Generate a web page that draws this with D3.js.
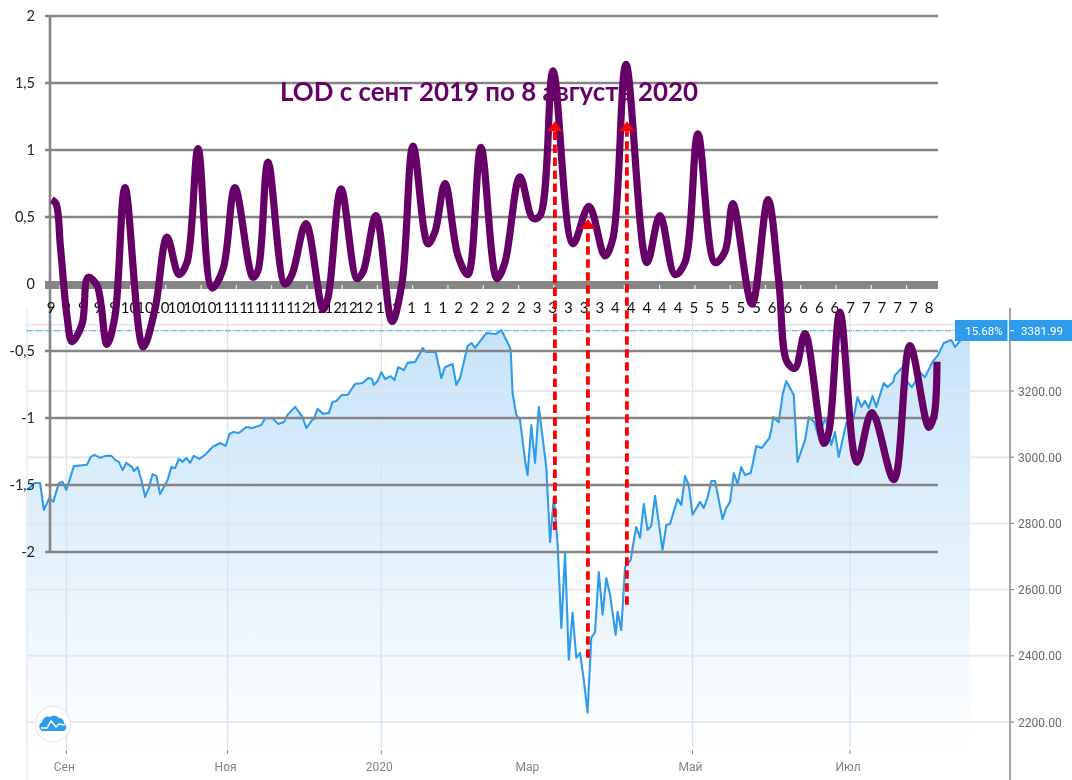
<!DOCTYPE html>
<html lang="ru">
<head>
    <meta charset="UTF-8">
    <title>LOD с сент 2019 по 8 августа 2020</title>
    <script src="https://d3js.org/d3.v7.min.js"></script>
    <style>
        html, body { margin: 0; padding: 0; background: #fff; overflow: hidden; }
        svg { display: block; }
        .lod-tick { font: 14.5px "Lato", "Open Sans", sans-serif; fill: #222; text-anchor: end; }
        .lod-cat { font: 15px "Lato", "Open Sans", sans-serif; fill: #111; text-anchor: middle; }
        .price-tick { font: 12px "Roboto", sans-serif; fill: #6a6a6a; }
        .month { font: 12px "Roboto", sans-serif; fill: #7d8590; text-anchor: middle; }
        .tag { font: 11.5px "Roboto", sans-serif; fill: #fff; text-anchor: middle; }
    </style>
</head>
<body>
    <svg id="chart" width="1072" height="780"></svg>

    <script>
        const chartTitle = "LOD с сент 2019 по 8 августа 2020";

        // верхний график (LOD)
        const lodTicks = [2, 1.5, 1, 0.5, 0, -0.5, -1, -1.5, -2];
        const lodCats = [9, 9, 9, 9, 9, 10, 10, 10, 10, 10, 10, 11, 11, 11, 11, 11, 12, 12, 12, 12, 12,
            1, 1, 1, 1, 1, 2, 2, 2, 2, 2, 3, 3, 3, 3, 3, 4, 4, 4, 4, 4, 5, 5, 5, 5, 5,
            6, 6, 6, 6, 6, 7, 7, 7, 7, 7, 8];
        const lodPos = [0.05, 0.32, 0.6, 1.02, 1.34, 1.98, 2.36, 2.93, 3.57, 4.08, 4.72, 5.87, 6.63, 7.4, 8.16, 8.67,
            9.38, 10.27, 10.97, 11.73, 12.88, 13.2, 13.84, 14.92, 15.37, 16.26, 17.35, 17.67, 18.5, 19.52, 19.9,
            20.73, 21.75, 22.39, 23.09, 24.04, 24.49, 25.13, 25.96, 26.59, 27.42, 28.44, 28.95, 29.91, 30.74, 31.19,
            32.02, 33.29, 34.31, 35.33, 35.84, 36.67, 38.01, 38.84, 39.8, 40.43, 41.26, 42.35, 42.98, 43.49, 44.71,
            45.73, 46.43, 46.94, 47.45, 48.09, 49.3, 49.62, 50.32, 51.4, 52.36, 53.76, 54.78, 55.99, 56.31, 56.51];
        const lodValues = [0.63, 0.6, 0.28, -0.24, -0.43, -0.3, 0.05, -0.01, -0.45, -0.24, 0.72, -0.47, -0.19, 0.35, 0.07, 0.16,
            1.01, -0.03, 0.11, 0.72, 0.05, 0.1, 0.91, 0, 0.07, 0.45, -0.19, -0.1, 0.71, 0.04, 0.09,
            0.51, -0.28, 0.01, 1.03, 0.3, 0.39, 0.75, 0.21, 0.07, 1.02, 0.04, 0.16, 0.8, 0.49, 0.51,
            1.59, 0.3, 0.58, 0.21, 0.34, 1.64, 0.16, 0.51, 0.07, 0.16, 1.12, 0.16, 0.24, 0.6, -0.15,
            0.63, 0.01, -0.58, -0.63, -0.37, -1.19, -1.1, -0.21, -1.33, -0.96, -1.46, -0.46, -1.07, -0.99, -0.58];

        // нижний график (цена)
        const priceTicks = [3400, 3200, 3000, 2800, 2600, 2400, 2200];
        const monthLabels = ["Сен", "Ноя", "2020", "Мар", "Май", "Июл"];
        const monthSessions = [10.5, 53.5, 94.5, 134, 177.5, 219.5];
        const monthHasGrid = [true, true, true, false, true, true];
        const priceSessions = [0, 2, 3.5, 4.5, 6, 7, 8.5, 9.5, 10.5, 12.5, 16, 17, 18, 19.5, 21, 22.5, 23.5, 24.5, 25.5, 26.5,
            28, 28.5, 29.5, 30.5, 31.5, 32.5, 33.5, 34.5, 35.5, 36.5, 37.5, 38.5, 39.5, 40.5, 41.5, 42.5, 43.5, 44.5, 46, 47.5,
            49.5, 50.5, 51.5, 53, 54, 55, 56.5, 58.5, 60, 62.5, 63.5, 65.5, 67, 68.5, 69.5, 71.5, 73.5, 74.5, 76, 76.5,
            77.5, 79, 80.5, 81.5, 82.5, 84, 85.5, 87.5, 89.5, 91, 92, 92.5, 93.5, 94.5, 95.5, 97, 98, 99, 100.5, 101.5,
            103.5, 105, 105.5, 106.5, 109, 110.5, 111.5, 113.5, 114.5, 115.5, 117.5, 118.5, 119.5, 122.5, 125, 126.5, 128.5, 129, 129.5, 130.5,
            131.5, 133, 133.5, 134.5, 135.5, 136.5, 138.5, 139.5, 140.5, 141.5, 142.5, 143.5, 144.5, 145.5, 146.5, 147.5, 148.5, 149.5, 150.5, 151.5,
            152.5, 153.5, 154.5, 155.5, 157, 157.5, 158.5, 159.5, 161, 162, 162.5, 163.5, 164.5, 165.5, 166.5, 167.5, 169.5, 170.5, 171.5, 173.5,
            174.5, 175.5, 176.5, 177.5, 179.5, 180.5, 181.5, 182.5, 183.5, 185.5, 186.5, 187.5, 188.5, 189.5, 190.5, 191.5, 193, 193.5, 194.5, 196,
            198, 198.5, 199, 200.5, 201.5, 202.5, 204.5, 205.5, 207.5, 208.5, 210, 211, 213, 214.5, 215.5, 216.5, 218.5, 220.5, 221.5, 222.5,
            223.5, 224.5, 225.5, 226.5, 228.5, 229.5, 231, 231.5, 233.5, 235, 236, 237.5, 238, 239.5, 241.5, 243, 244.5, 246.5, 247.5, 249, 250, 251.5];
        const priceValues = [2901, 2922, 2922, 2841, 2877, 2865, 2922, 2925, 2901, 2973, 2977, 3001, 3007, 2998, 3004, 3004, 2992, 2986, 2961, 2983,
            2970, 2958, 2970, 2931, 2880, 2907, 2949, 2943, 2889, 2910, 2931, 2970, 2967, 2995, 2986, 2998, 2983, 3004, 2995, 3007,
            3031, 3037, 3043, 3034, 3070, 3076, 3073, 3091, 3088, 3097, 3118, 3118, 3100, 3106, 3128, 3152, 3121, 3088, 3112, 3115,
            3146, 3131, 3134, 3167, 3170, 3188, 3188, 3221, 3224, 3239, 3236, 3218, 3230, 3257, 3236, 3245, 3233, 3272, 3263, 3285,
            3288, 3318, 3330, 3318, 3318, 3239, 3272, 3282, 3218, 3239, 3336, 3345, 3330, 3375, 3372, 3384, 3339, 3324, 3194, 3128,
            3112, 2977, 2946, 3097, 2983, 3152, 2970, 2744, 2877, 2741, 2484, 2711, 2388, 2530, 2394, 2409, 2327, 2228, 2454, 2472,
            2653, 2524, 2635, 2584, 2463, 2533, 2478, 2668, 2690, 2759, 2789, 2756, 2859, 2780, 2792, 2883, 2720, 2795, 2798, 2874,
            2856, 2943, 2916, 2826, 2865, 2847, 2877, 2928, 2928, 2813, 2847, 2865, 2952, 2919, 2970, 2946, 2952, 2977, 3034, 3028,
            3058, 3082, 3121, 3106, 3188, 3230, 3188, 2986, 3052, 3121, 3106, 3067, 3118, 3037, 3076, 3001, 3103, 3121, 3182, 3152,
            3170, 3149, 3185, 3152, 3224, 3212, 3227, 3248, 3272, 3224, 3212, 3239, 3257, 3242, 3288, 3309, 3345, 3354, 3333, 3354, 3375, 3382];
        const lastPrice = "3381.99";
        const lastChange = "15.68%";

        // красные стрелки: сессия, низ (цена), верх (LOD)
        const arrowSessions = [140.8, 149.6, 160];
        const arrowLows = [2780, 2394, 2554];
        const arrowHighs = [1.14, 0.41, 1.14];

        const svg = d3.select("#chart");

        const lodX = d3.scaleLinear().domain([0, 56]).range([51, 929]);
        const lodY = d3.scaleLinear().domain([2, -2]).range([16, 552]);
        const priceX = d3.scaleLinear().domain([0, 251.5]).range([27, 970]);
        const priceY = d3.scaleLinear().domain([3200, 2200]).range([391, 722]);

        const defs = svg.append("defs");
        const grad = defs.append("linearGradient")
            .attr("id", "areaFill")
            .attr("gradientUnits", "userSpaceOnUse")
            .attr("x1", 0).attr("x2", 0).attr("y1", 331).attr("y2", 752);
        grad.append("stop").attr("offset", 0).attr("stop-color", "#c6e3f9");
        grad.append("stop").attr("offset", 1).attr("stop-color", "#ffffff");

        // исходник — размытый скриншот
        defs.append("filter")
            .attr("id", "soft")
            .attr("filterUnits", "userSpaceOnUse")
            .attr("x", 0).attr("y", 0).attr("width", 1072).attr("height", 780)
            .append("feGaussianBlur")
            .attr("stdDeviation", 0.45);

        const root = svg.append("g").attr("filter", "url(#soft)");
        root.append("rect").attr("width", 1072).attr("height", 780).attr("fill", "#fff");

        // ----- нижний график -----
        const back = root.append("g");

        const priceData = priceSessions.map((s, i) => [s, priceValues[i]]);

        const area = d3.area()
            .x(d => priceX(d[0]))
            .y0(752)
            .y1(d => priceY(d[1]));
        back.append("path")
            .datum(priceData)
            .attr("d", area)
            .attr("fill", "url(#areaFill)");

        back.selectAll(".hgrid")
            .data(priceTicks)
            .enter().append("line")
            .attr("x1", 27).attr("x2", 1010)
            .attr("y1", d => priceY(d)).attr("y2", d => priceY(d))
            .attr("stroke", "#e4e5ee").attr("stroke-width", 2).attr("opacity", 0.85);

        back.selectAll(".vgrid")
            .data(monthSessions.filter((d, i) => monthHasGrid[i]))
            .enter().append("line")
            .attr("x1", d => priceX(d)).attr("x2", d => priceX(d))
            .attr("y1", 308).attr("y2", 748)
            .attr("stroke", "#dde3ee").attr("stroke-width", 1.4);

        // левая граница и правая ось
        back.append("line").attr("x1", 27).attr("x2", 27).attr("y1", 308).attr("y2", 780)
            .attr("stroke", "#dfe4ee").attr("stroke-width", 1.2);
        back.append("line").attr("x1", 1010).attr("x2", 1010).attr("y1", 308).attr("y2", 780)
            .attr("stroke", "#8a8a8a").attr("stroke-width", 1.5);

        back.selectAll(".ptick")
            .data(priceTicks.slice(1))
            .enter().append("line")
            .attr("x1", 1010).attr("x2", 1014)
            .attr("y1", d => priceY(d)).attr("y2", d => priceY(d))
            .attr("stroke", "#8a8a8a").attr("stroke-width", 1.2);

        back.selectAll(".price-tick")
            .data(priceTicks.slice(1))
            .enter().append("text")
            .attr("class", "price-tick")
            .attr("x", 1018)
            .attr("y", d => priceY(d) + 4.5)
            .text(d => d3.format(".2f")(d));

        // подписи месяцев
        back.selectAll(".mtick")
            .data(monthSessions.filter((d, i) => monthHasGrid[i]))
            .enter().append("line")
            .attr("x1", d => priceX(d)).attr("x2", d => priceX(d))
            .attr("y1", 750).attr("y2", 754)
            .attr("stroke", "#888").attr("stroke-width", 1);
        back.selectAll(".month")
            .data(monthLabels)
            .enter().append("text")
            .attr("class", "month")
            .attr("x", (d, i) => priceX(monthSessions[i]) - 2)
            .attr("y", 771)
            .text(d => d);

        // линия цены
        back.append("path")
            .datum(priceData)
            .attr("d", d3.line().x(d => priceX(d[0])).y(d => priceY(d[1])))
            .attr("fill", "none")
            .attr("stroke", "#2f9ceb")
            .attr("stroke-width", 2.1)
            .attr("stroke-linejoin", "round");

        // уровень последней цены
        const lastY = priceY(+lastPrice);
        back.append("line")
            .attr("x1", 27).attr("x2", 956)
            .attr("y1", lastY).attr("y2", lastY)
            .attr("stroke", "#46a8f0")
            .attr("stroke-width", 1.2)
            .attr("stroke-dasharray", "6 1 1 1");

        back.append("rect").attr("x", 955).attr("y", 320).attr("width", 52.5).attr("height", 21).attr("fill", "#2f9ceb");
        back.append("rect").attr("x", 1009).attr("y", 320).attr("width", 63).attr("height", 21).attr("fill", "#2f9ceb");
        back.append("line").attr("x1", 1010).attr("x2", 1014).attr("y1", lastY).attr("y2", lastY)
            .attr("stroke", "#fff").attr("stroke-width", 1);
        back.append("text").attr("class", "tag").attr("x", 984).attr("y", 335).text(lastChange);
        back.append("text").attr("class", "tag").attr("x", 1042).attr("y", 335).text(lastPrice);

        // значок
        const logo = back.append("g").attr("transform", "translate(53,724)");
        logo.append("circle").attr("r", 17.5).attr("fill", "#fff").attr("stroke", "#e6e8ee").attr("stroke-width", 1.2);
        logo.append("path")
            .attr("d", "M-11,7 A5,5 0 0 1 -11,-2 A6,6 0 0 1 -3,-7 A7,7 0 0 1 6,-6 A5,5 0 0 1 11,-1 A4.5,4.5 0 0 1 11,7 Z")
            .attr("fill", "#2f9ceb");
        logo.append("path")
            .attr("d", "M-12,4 L-6,4 L-2,-3 L3,3 L6,0 L12,1")
            .attr("fill", "none").attr("stroke", "#fff").attr("stroke-width", 1.4);

        // ----- верхний график -----
        const front = root.append("g");

        front.selectAll(".lod-grid")
            .data(lodTicks.filter(d => d !== 0))
            .enter().append("line")
            .attr("x1", 45).attr("x2", 938)
            .attr("y1", d => lodY(d)).attr("y2", d => lodY(d))
            .attr("stroke", "#858585").attr("stroke-width", 2.6);

        front.append("line")
            .attr("x1", 50).attr("x2", 50)
            .attr("y1", lodY(2)).attr("y2", lodY(-2))
            .attr("stroke", "#858585").attr("stroke-width", 2.6);

        // толстая нулевая линия с засечками
        front.append("line")
            .attr("x1", 45).attr("x2", 938)
            .attr("y1", lodY(0) + 1).attr("y2", lodY(0) + 1)
            .attr("stroke", "#858585").attr("stroke-width", 8);
        front.selectAll(".zero-tick")
            .data(d3.range(0, 25))
            .enter().append("line")
            .attr("x1", d => lodX(0.57 + d * 2.25)).attr("x2", d => lodX(0.57 + d * 2.25))
            .attr("y1", lodY(0) + 1).attr("y2", lodY(0) + 5)
            .attr("stroke", "#ededed").attr("stroke-width", 1.2);

        front.selectAll(".lod-tick")
            .data(lodTicks)
            .enter().append("text")
            .attr("class", "lod-tick")
            .attr("x", 35)
            .attr("y", d => lodY(d) + 5)
            .text(d => String(d).replace(".", ","));

        front.selectAll(".lod-cat")
            .data(lodCats)
            .enter().append("text")
            .attr("class", "lod-cat")
            .attr("x", (d, i) => lodX(i))
            .attr("y", 313)
            .text(d => d);

        front.append("text")
            .attr("x", 280)
            .attr("y", 101)
            .attr("textLength", 418)
            .attr("lengthAdjust", "spacingAndGlyphs")
            .attr("font-family", "Lato, 'Open Sans', sans-serif")
            .attr("font-weight", "bold")
            .attr("font-size", 26)
            .attr("fill", "#660066")
            .text(chartTitle);

        const lodLine = d3.line()
            .x((d, i) => lodX(lodPos[i]))
            .y(d => lodY(d))
            .curve(d3.curveCatmullRom.alpha(0.5));

        front.append("path")
            .datum(lodValues)
            .attr("d", lodLine)
            .attr("fill", "none")
            .attr("stroke", "#660066")
            .attr("stroke-width", 7.2);

        // красные стрелки
        arrowSessions.forEach((s, i) => {
            const x = priceX(s);
            const yTop = lodY(arrowHighs[i]);
            front.append("line")
                .attr("x1", x).attr("x2", x)
                .attr("y1", priceY(arrowLows[i])).attr("y2", yTop)
                .attr("stroke", "#ff0000")
                .attr("stroke-width", 3.8)
                .attr("stroke-dasharray", "8.5 4.5");
            front.append("path")
                .attr("d", `M${x},${yTop - 10} L${x + 7.5},${yTop} L${x - 7.5},${yTop} Z`)
                .attr("fill", "#ff0000");
        });
    </script>
</body>
</html>
